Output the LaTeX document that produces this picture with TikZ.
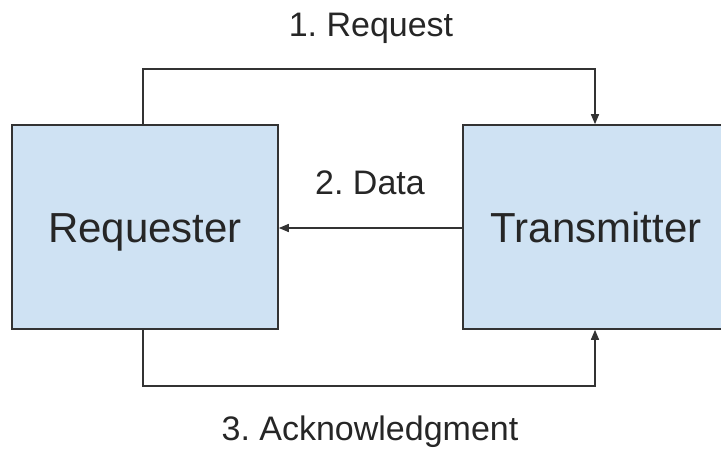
\documentclass[tikz,border=0pt]{standalone}
\usepackage{fontspec}
\setmainfont{Liberation Sans}
\usetikzlibrary{arrows.meta}
\definecolor{boxfill}{HTML}{CFE2F3}
\definecolor{linec}{HTML}{333333}
\frenchspacing
\begin{document}
\begin{tikzpicture}[x=1pt,y=1pt,
  blockbox/.style={draw=linec,line width=1.6pt,fill=boxfill,minimum width=266pt,minimum height=204pt,inner sep=0pt,
    font=\fontsize{42}{48}\selectfont,text=black!85,text height=30pt,text depth=0pt},
  lbl/.style={font=\fontsize{34}{40}\selectfont,text=black!85,anchor=base,inner sep=0pt},
  conn/.style={draw=linec,line width=1.5pt,-{Triangle[length=10pt,width=8pt]}}]
\path[use as bounding box,clip] (0,0) rectangle (721,451);
\node[blockbox] (req) at (145,224) {Requester};
\node[blockbox] (tra) at (596,224) {Transmitter};
\coordinate (topl) at (143,382);
\coordinate (botl) at (143,65);
\draw[conn] ([xshift=-2pt]req.north) -- (topl) -| ([xshift=-1pt]tra.north);
\draw[conn] ([xshift=-2pt]req.south) -- (botl) -| ([xshift=-1pt]tra.south);
\draw[conn] ([yshift=-1pt]tra.west) -- ([yshift=-1pt]req.east);
\node[lbl] (l1) at (371,414) {\frenchspacing 1. Request};
\node[lbl] (l2) at (370,257) {\frenchspacing 2. Data};
\node[lbl] (l3) at (370,11) {\frenchspacing 3. Acknowledgment};
\end{tikzpicture}
\end{document}
